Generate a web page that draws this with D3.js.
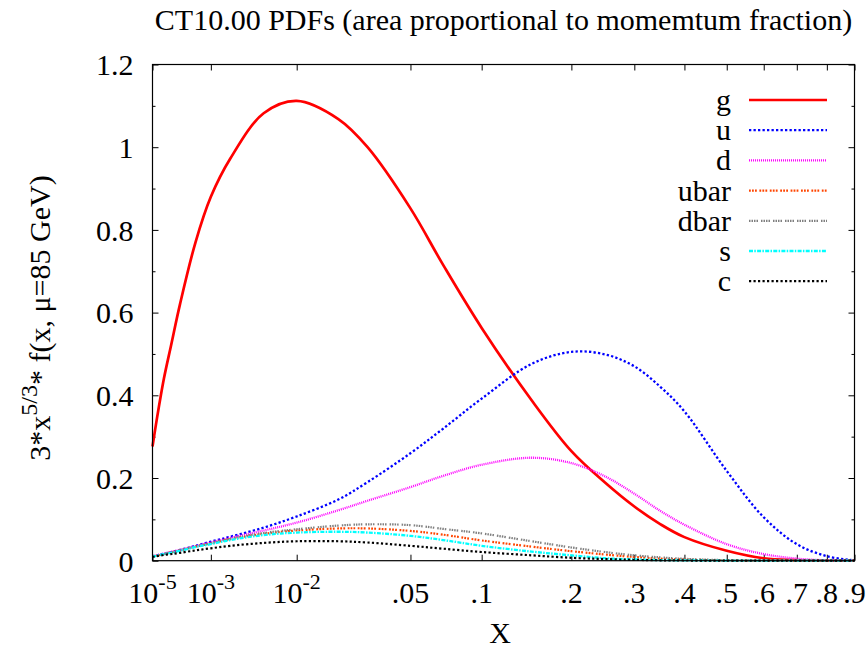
<!DOCTYPE html>
<html>
<head>
<meta charset="utf-8">
<script src="https://cdn.jsdelivr.net/npm/d3@7"></script>
<style>
  body { margin: 0; background: #fff; }
  svg { display: block; }
</style>
</head>
<body>
<svg class="chart" width="866" height="648"></svg>
<script>
const xs = [1e-5, 2e-5, 5e-5, 1e-4, 2e-4, 5e-4, 1e-3, 2e-3, 5e-3, 0.01, 0.02, 0.03, 0.05, 0.07,
  0.1, 0.15, 0.2, 0.25, 0.3, 0.35, 0.4, 0.5, 0.6, 0.7, 0.8, 0.9]

// 3*x^(5/3)*f(x) at mu = 85 GeV
const gVals    = [0.276, 0.34, 0.44, 0.52, 0.62, 0.77, 0.88, 0.972, 1.082, 1.112, 1.068, 1.0, 0.852, 0.716,
  0.563, 0.388, 0.265, 0.189, 0.131, 0.088, 0.057, 0.024, 0.006, 0.0015, 0.0002, 0]
const uVals    = [0.010, 0.013, 0.017, 0.021, 0.026, 0.036, 0.046, 0.058, 0.08, 0.107, 0.148, 0.19, 0.26, 0.319,
  0.392, 0.476, 0.505, 0.499, 0.47, 0.42, 0.361, 0.217, 0.105, 0.04, 0.011, 0.0005]
const dVals    = [0.010, 0.013, 0.017, 0.021, 0.026, 0.035, 0.044, 0.055, 0.073, 0.092, 0.122, 0.145, 0.178, 0.205,
  0.232, 0.249, 0.236, 0.204, 0.162, 0.12, 0.087, 0.04, 0.016, 0.005, 0.001, 0]
const ubarVals = [0.010, 0.012, 0.016, 0.020, 0.025, 0.034, 0.042, 0.052, 0.065, 0.073, 0.078, 0.078, 0.072, 0.063,
  0.049, 0.034, 0.023, 0.015, 0.009, 0.005, 0.0028, 0.0008, 0.0002, 0, 0, 0]
const dbarVals = [0.010, 0.012, 0.016, 0.020, 0.025, 0.034, 0.042, 0.053, 0.067, 0.076, 0.085, 0.088, 0.086, 0.077,
  0.066, 0.047, 0.032, 0.021, 0.013, 0.008, 0.0045, 0.0013, 0.0003, 0, 0, 0]
const sVals    = [0.0095, 0.012, 0.016, 0.019, 0.024, 0.033, 0.040, 0.050, 0.062, 0.068, 0.070, 0.068, 0.060, 0.050,
  0.036, 0.022, 0.013, 0.006, 0.003, 0.0015, 0.0008, 0.0002, 0, 0, 0, 0]
const cVals    = [0.009, 0.011, 0.014, 0.016, 0.019, 0.025, 0.030, 0.036, 0.043, 0.047, 0.047, 0.044, 0.036, 0.029,
  0.021, 0.013, 0.007, 0.004, 0.002, 0.001, 0.0005, 0, 0, 0, 0, 0]

const names = ['g', 'u', 'd', 'ubar', 'dbar', 's', 'c']
const values = [gVals, uVals, dVals, ubarVals, dbarVals, sVals, cVals]

const xTicks = [1e-5, 1e-3, 1e-2, 0.05, 0.1, 0.2, 0.3, 0.4, 0.5, 0.6, 0.7, 0.8, 0.9]
const xTickLabels = ['10^-5', '10^-3', '10^-2', '.05', '.1', '.2', '.3', '.4', '.5', '.6', '.7', '.8', '.9']
const yTicks = [0, 0.2, 0.4, 0.6, 0.8, 1.0, 1.2]
const yTickLabels = ['0', '0.2', '0.4', '0.6', '0.8', '1', '1.2']
const yMinor = [0.1, 0.3, 0.5, 0.7, 0.9, 1.1]

// line styles per parton
const styles = {
  g:    { color: '#ff0000', dash: null, width: 2.7 },
  u:    { color: '#0000ff', dash: '2.3,2.2', width: 2.3 },
  d:    { color: '#ff00ff', dash: '1,1', width: 2.3 },
  ubar: { color: '#ff4500', dash: '1.8,1.2,1.8,1.2,1.8,2.6', width: 2.2 },
  dbar: { color: '#808080', dash: '1.5,1,1.5,1,1.5,1,1.5,3', width: 2.2 },
  s:    { color: '#00ffff', dash: '4,1.3,1.5,1.3', width: 2.3 },
  c:    { color: '#000000', dash: '2.2,2.3', width: 2.2 }
}

const box = { left: 152.5, right: 854.5, top: 64.5, bottom: 560.7 }
const fontSize = 30
const serif = 'Liberation Serif, Times New Roman, serif'

// x axis is linear in x^(1/3): area under curve ~ momentum fraction
const x = d3.scalePow().exponent(1 / 3).domain([1e-5, 0.9]).range([box.left, box.right])
const y = d3.scaleLinear().domain([0, 1.2]).range([box.bottom, box.top])

const svg = d3.select('svg.chart')

const tickAxis = (g, axis) => {
  g.call(axis)
  g.select('.domain').remove()
  g.selectAll('line').attr('stroke', '#000')
  g.selectAll('text').remove()
}

// ticks, all inward, mirrored on the opposite side
svg.append('g').attr('transform', `translate(0,${box.bottom})`)
  .call(g => tickAxis(g, d3.axisBottom(x).tickValues(xTicks).tickSizeInner(-6).tickSizeOuter(0)))
svg.append('g').attr('transform', `translate(0,${box.top})`)
  .call(g => tickAxis(g, d3.axisTop(x).tickValues(xTicks).tickSizeInner(-6).tickSizeOuter(0)))
svg.append('g').attr('transform', `translate(${box.left},0)`)
  .call(g => tickAxis(g, d3.axisLeft(y).tickValues(yTicks).tickSizeInner(-6).tickSizeOuter(0)))
svg.append('g').attr('transform', `translate(${box.left},0)`)
  .call(g => tickAxis(g, d3.axisLeft(y).tickValues(yMinor).tickSizeInner(-3).tickSizeOuter(0)))
svg.append('g').attr('transform', `translate(${box.right},0)`)
  .call(g => tickAxis(g, d3.axisRight(y).tickValues(yTicks).tickSizeInner(-6).tickSizeOuter(0)))
svg.append('g').attr('transform', `translate(${box.right},0)`)
  .call(g => tickAxis(g, d3.axisRight(y).tickValues(yMinor).tickSizeInner(-3).tickSizeOuter(0)))

// curves
const line = d3.line()
  .x((d, i) => x(xs[i]))
  .y(d => y(d))
  .curve(d3.curveCatmullRom.alpha(0.5))

svg.append('g').attr('class', 'curves')
  .selectAll('path')
  .data(names)
  .join('path')
  .attr('d', n => line(values[names.indexOf(n)]))
  .attr('fill', 'none')
  .attr('stroke', n => styles[n].color)
  .attr('stroke-width', n => styles[n].width)
  .attr('stroke-dasharray', n => styles[n].dash)

// border
svg.append('rect')
  .attr('x', box.left).attr('y', box.top)
  .attr('width', box.right - box.left).attr('height', box.bottom - box.top)
  .attr('fill', 'none').attr('stroke', '#000').attr('stroke-width', 1.2)

// all text goes in one group so the font is set once
const labels = svg.append('g')
  .attr('font-family', serif)
  .attr('font-size', fontSize)
  .attr('fill', '#000')

// tick labels
labels.append('g').selectAll('text')
  .data(xTicks)
  .join('text')
  .attr('x', d => x(d))
  .attr('y', 603)
  .attr('text-anchor', 'middle')
  .each(function (d, i) {
    const [base, sup] = xTickLabels[i].split('^')
    const t = d3.select(this)
    t.append('tspan').text(base)
    if (sup) t.append('tspan').attr('dy', -14).attr('font-size', 22).text(sup)
  })

labels.append('g').selectAll('text')
  .data(yTicks)
  .join('text')
  .attr('x', 133.5)
  .attr('y', d => y(d))
  .attr('dy', '0.36em')
  .attr('text-anchor', 'end')
  .text((d, i) => yTickLabels[i])

// title and axis labels
labels.append('text')
  .attr('x', (box.left + box.right) / 2).attr('y', 30)
  .attr('text-anchor', 'middle')
  .text('CT10.00 PDFs (area proportional to momemtum fraction)')

labels.append('text')
  .attr('x', 500).attr('y', 643)
  .attr('text-anchor', 'middle')
  .text('X')

const ylab = labels.append('text')
  .attr('transform', 'translate(50,318) rotate(-90)')
  .attr('text-anchor', 'middle')
ylab.append('tspan').text('3*x')
ylab.append('tspan').attr('dy', -13).attr('font-size', 24).text('5/3')
ylab.append('tspan').attr('dy', 13).text('* f(x, \u03bc=85 GeV)')

// legend
const legend = labels.append('g').attr('class', 'legend')
  .selectAll('g')
  .data(names)
  .join('g')
  .attr('transform', (n, i) => `translate(0,${100 + i * 30.2})`)

legend.append('text')
  .attr('x', 731).attr('dy', 10)
  .attr('text-anchor', 'end')
  .text(n => n)

legend.append('line')
  .attr('x1', 749).attr('x2', 827)
  .attr('stroke', n => styles[n].color)
  .attr('stroke-width', n => styles[n].width)
  .attr('stroke-dasharray', n => styles[n].dash)
</script>
</body>
</html>
